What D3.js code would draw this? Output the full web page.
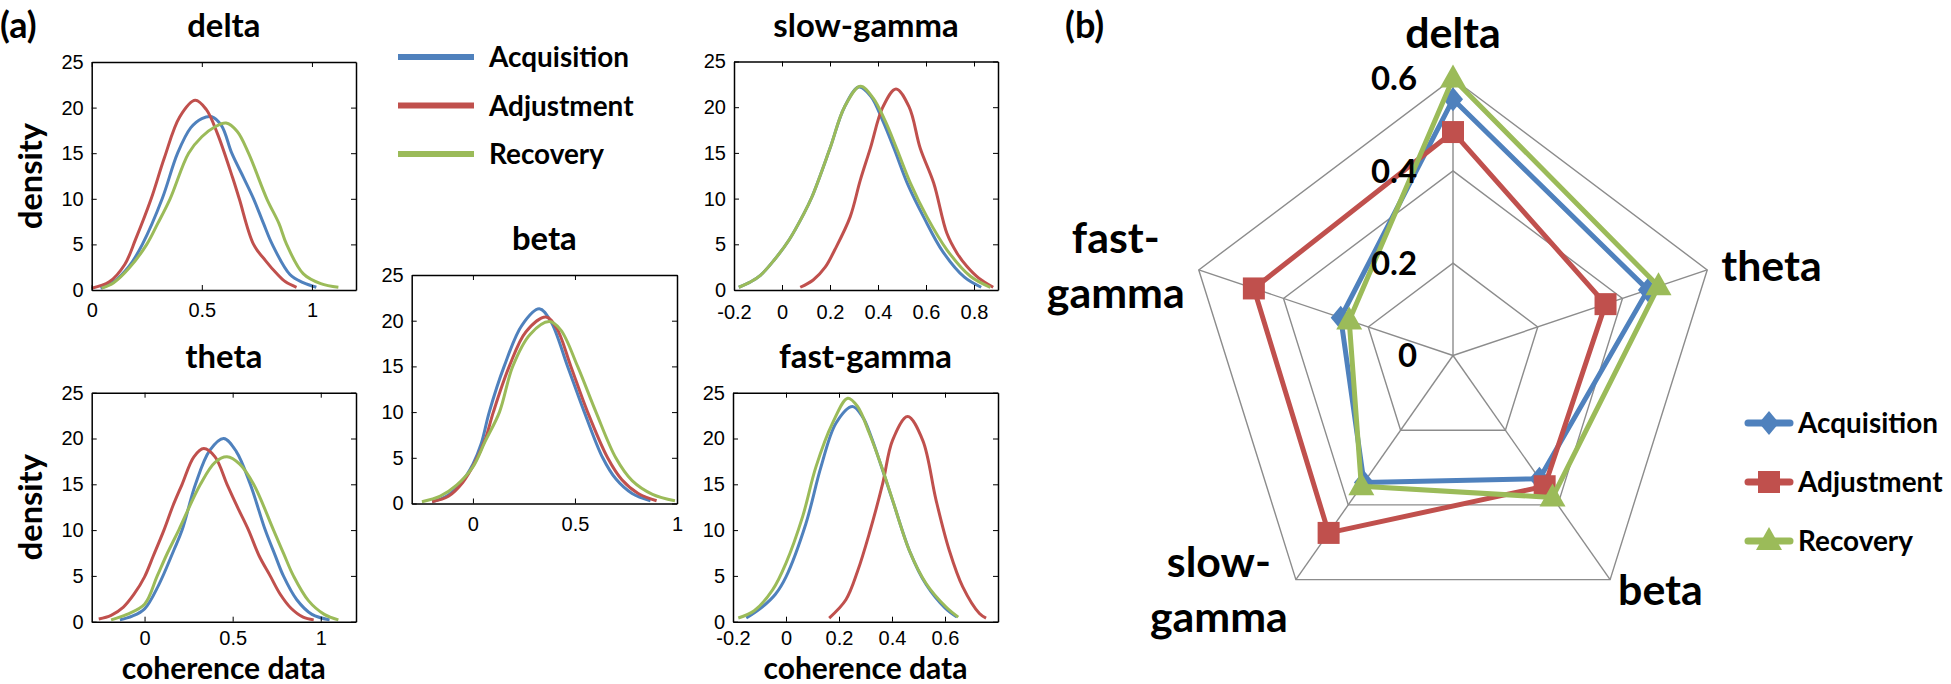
<!DOCTYPE html>
<html>
<head>
<meta charset="utf-8">
<script src="https://cdn.jsdelivr.net/npm/d3@7"></script>
<style>
body { margin: 0; background: #fff; }
text { font-family: Lato, "Noto Sans", sans-serif; font-weight: bold; fill: #000; }
.tick text { font-family: "Liberation Sans", Arial, sans-serif; font-weight: normal; font-size: 20px; }
.tick line { stroke: #000; stroke-width: 1; }
.domain { stroke: #000; stroke-width: 1.5; }
</style>
</head>
<body>
<svg id="fig" width="1951" height="684"></svg>
<script>
// phases and colours
var phases = ["Acquisition", "Adjustment", "Recovery"];
var phaseColors = ["#4f81bd", "#c0504d", "#9bbb59"];

// density curves: [coherence, density]
var deltaAcq = [[0.04,0.2],[0.1,0.9],[0.17,2.6],[0.23,5],[0.32,10],[0.39,15],[0.45,17.8],[0.5,18.8],[0.545,19],[0.59,18],[0.636,15],[0.69,12.3],[0.735,10],[0.78,7.3],[0.82,5],[0.9,1.7],[0.96,0.8],[1.02,0.3]];
var deltaAdj = [[0,0.2],[0.08,0.9],[0.15,2.8],[0.2,5.6],[0.27,10],[0.33,14.5],[0.4,19],[0.47,20.8],[0.52,19.8],[0.57,17.2],[0.64,12.3],[0.67,10],[0.735,5],[0.79,3.2],[0.84,1.8],[0.88,0.9],[0.93,0.3]];
var deltaRec = [[0.045,0.2],[0.1,0.8],[0.17,2.4],[0.25,5],[0.3,7.3],[0.356,10],[0.44,15],[0.5,16.8],[0.56,17.9],[0.61,18.3],[0.66,17.4],[0.712,15],[0.795,10],[0.85,7.3],[0.885,5],[0.96,1.8],[1.04,0.7],[1.12,0.3]];

var thetaAcq = [[-0.14,0.2],[-0.07,0.6],[0,1.4],[0.08,4],[0.166,7.8],[0.213,10],[0.289,15],[0.37,18.7],[0.449,20],[0.52,18.6],[0.6,15],[0.685,10],[0.74,7.3],[0.788,5],[0.864,2.4],[0.95,0.8],[1.05,0.2]];
var thetaAdj = [[-0.26,0.3],[-0.19,0.7],[-0.12,1.6],[-0.06,3.0],[0,4.9],[0.05,7.2],[0.11,10],[0.16,12.6],[0.213,15],[0.28,18],[0.336,18.9],[0.4,18],[0.468,15],[0.53,12.4],[0.59,10],[0.65,7.2],[0.713,5],[0.77,3],[0.83,1.5],[0.9,0.5],[0.96,0.2]];
var thetaRec = [[-0.19,0.2],[-0.1,0.8],[0,1.9],[0.072,5],[0.13,7.5],[0.194,10],[0.317,15],[0.4,17.4],[0.468,18],[0.54,17.2],[0.619,15],[0.732,10],[0.79,7.4],[0.845,5],[0.93,2.3],[1.02,0.8],[1.1,0.2]];

var betaAcq = [[-0.2,0.2],[-0.13,0.8],[-0.06,2.2],[0,4.3],[0.04,6.5],[0.08,10],[0.153,15],[0.24,19.5],[0.325,21.3],[0.38,20],[0.464,15],[0.546,10],[0.636,5],[0.7,2.7],[0.78,1.1],[0.87,0.3]];
var betaAdj = [[-0.2,0.2],[-0.12,0.8],[-0.05,2.3],[0.01,4.5],[0.06,7],[0.1,10],[0.178,15],[0.26,18.8],[0.358,20.4],[0.41,19.2],[0.48,15],[0.562,10],[0.66,5],[0.73,2.6],[0.81,1.1],[0.9,0.3]];
var betaRec = [[-0.25,0.2],[-0.16,0.8],[-0.08,2],[0,4],[0.06,6.8],[0.13,10],[0.195,15],[0.28,18.5],[0.374,19.9],[0.43,19],[0.513,15],[0.603,10],[0.7,5],[0.78,2.5],[0.88,1],[0.99,0.3]];

var slowAcq = [[-0.18,0.3],[-0.13,0.9],[-0.09,1.6],[-0.035,3.2],[0.03,5.5],[0.09,8.3],[0.125,10.2],[0.2,15.5],[0.26,20],[0.32,22.2],[0.37,21.2],[0.42,18.5],[0.468,15.4],[0.525,11.5],[0.59,8],[0.67,4.2],[0.76,1.4],[0.83,0.3]];
var slowAdj = [[0.076,0.3],[0.13,1.1],[0.18,2.5],[0.22,4.4],[0.284,8],[0.326,12],[0.368,15.5],[0.42,20],[0.475,22],[0.53,20],[0.576,15.5],[0.632,11.7],[0.687,6.2],[0.73,4],[0.77,2.6],[0.82,1.3],[0.88,0.3]];
var slowRec = [[-0.18,0.3],[-0.13,0.9],[-0.09,1.6],[-0.035,3.2],[0.03,5.5],[0.09,8.3],[0.125,10.2],[0.2,15.5],[0.26,20],[0.326,22.3],[0.38,21],[0.43,18.5],[0.479,15.4],[0.535,11.7],[0.604,8],[0.687,4.4],[0.785,1.5],[0.868,0.3]];

var fastAcq = [[-0.15,0.4],[-0.09,1.6],[-0.04,3],[0,4.9],[0.075,10.7],[0.132,16.9],[0.189,21.7],[0.251,23.5],[0.29,22.3],[0.32,20.3],[0.365,16.5],[0.405,13],[0.468,7.6],[0.53,4],[0.6,1.5],[0.645,0.5]];
var fastAdj = [[0.163,0.4],[0.226,2.4],[0.27,5.5],[0.314,9.6],[0.365,15.1],[0.402,19.8],[0.459,22.4],[0.516,19.8],[0.566,13.3],[0.616,7.8],[0.667,3.8],[0.73,0.9],[0.755,0.4]];
var fastRec = [[-0.18,0.4],[-0.12,1.2],[-0.05,3.5],[0,6.4],[0.063,11.5],[0.113,16.9],[0.176,21.7],[0.233,24.4],[0.27,23.5],[0.314,20.6],[0.36,17],[0.402,13.3],[0.465,7.8],[0.528,4.2],[0.604,1.6],[0.65,0.5]];

// tick labels
var densityTicks = [0, 5, 10, 15, 20, 25];
var deltaTicks = [0, 0.5, 1];
var thetaTicks = [0, 0.5, 1];
var betaTicks = [0, 0.5, 1];
var slowTicks = [-0.2, 0, 0.2, 0.4, 0.6, 0.8];
var fastTicks = [-0.2, 0, 0.2, 0.4, 0.6];

// radar chart (b): bands clockwise from the top, mean coherence per phase
var bands = ["delta", "theta", "beta", "slow-gamma", "fast-gamma"];
var acqCoherence = [0.555, 0.46, 0.33, 0.34, 0.265];
var adjCoherence = [0.484, 0.36, 0.35, 0.475, 0.47];
var recCoherence = [0.60, 0.485, 0.38, 0.35, 0.245];
var ringTicks = [0, 0.2, 0.4, 0.6];

var svg = d3.select("#fig");
svg.append("rect").attr("width", 1951).attr("height", 684).attr("fill", "#fff");

function fmt(d) { return String(d); }

// font size that gives a sample string the width it has in the original figure
function fitSize(sample, width) {
    var t = svg.append("text").style("font-size", "40px").text(sample);
    var w = t.node().getComputedTextLength();
    t.remove();
    return (40 * width / w) + "px";
}
var titleSize = fitSize("fast-gamma", 173);
var legendSize = fitSize("Acquisition", 140);
var axisLabelSize = fitSize("density", 106);
var bandSize = fitSize("gamma", 138);
var ringSize = fitSize("0.6", 46);
var tagSize = "36px";

// ---------------- panel (a) ----------------
var panels = [
    {title: "delta", series: [deltaAcq, deltaAdj, deltaRec], domain: [0, 1.2], ticks: deltaTicks,
     left: 91.7, right: 356, top: 62, bottom: 290, pad: 13, ylab: true, xlab: false},
    {title: "theta", series: [thetaAcq, thetaAdj, thetaRec], domain: [-0.3, 1.2], ticks: thetaTicks,
     left: 91.7, right: 356, top: 392.7, bottom: 621.7, pad: 9, ylab: true, xlab: true},
    {title: "beta", series: [betaAcq, betaAdj, betaRec], domain: [-0.3, 1], ticks: betaTicks,
     left: 411.7, right: 677, top: 275, bottom: 503.5, pad: 13, ylab: false, xlab: false},
    {title: "slow-gamma", series: [slowAcq, slowAdj, slowRec], domain: [-0.2, 0.9], ticks: slowTicks,
     left: 734, right: 998, top: 61.5, bottom: 290, pad: 15, ylab: false, xlab: false},
    {title: "fast-gamma", series: [fastAcq, fastAdj, fastRec], domain: [-0.2, 0.8], ticks: fastTicks,
     left: 733, right: 998, top: 392.7, bottom: 621.7, pad: 9, ylab: false, xlab: true}
];

panels.forEach(function(p) {
    var x = d3.scaleLinear().domain(p.domain).range([p.left, p.right]);
    var y = d3.scaleLinear().domain([0, 25]).range([p.bottom, p.top]);
    var g = svg.append("g");

    // curves first, frame on top
    var line = d3.line()
        .x(function(d) { return x(d[0]); })
        .y(function(d) { return y(d[1]); })
        .curve(d3.curveCatmullRom.alpha(0.5));
    p.series.forEach(function(s, i) {
        g.append("path")
            .attr("d", line(s))
            .attr("fill", "none")
            .attr("stroke", phaseColors[i])
            .attr("stroke-width", 3);
    });

    // matlab style box with inward ticks on all sides
    g.append("g").attr("transform", "translate(0," + p.bottom + ")")
        .call(d3.axisBottom(x).tickValues(p.ticks).tickFormat(fmt).tickSizeInner(-5).tickSizeOuter(0).tickPadding(p.pad));
    g.append("g").attr("transform", "translate(0," + p.top + ")")
        .call(d3.axisTop(x).tickValues(p.ticks).tickFormat("").tickSizeInner(-5).tickSizeOuter(0));
    g.append("g").attr("transform", "translate(" + p.left + ",0)")
        .call(d3.axisLeft(y).tickValues(densityTicks).tickFormat(fmt).tickSizeInner(-5).tickSizeOuter(0).tickPadding(8));
    g.append("g").attr("transform", "translate(" + p.right + ",0)")
        .call(d3.axisRight(y).tickValues(densityTicks).tickFormat("").tickSizeInner(-5).tickSizeOuter(0));

    g.append("text")
        .attr("x", (p.left + p.right) / 2)
        .attr("y", p.top - 25)
        .attr("text-anchor", "middle")
        .style("font-size", titleSize)
        .text(p.title);

    if (p.ylab) {
        g.append("text")
            .attr("transform", "translate(42," + ((p.top + p.bottom) / 2) + ") rotate(-90)")
            .attr("text-anchor", "middle")
            .style("font-size", axisLabelSize)
            .text("density");
    }
    if (p.xlab) {
        g.append("text")
            .attr("x", (p.left + p.right) / 2)
            .attr("y", 679)
            .attr("text-anchor", "middle")
            .style("font-size", "30px")
            .text("coherence data");
    }
});

// legend of (a)
phases.forEach(function(name, i) {
    var ly = 57 + i * 48.5;
    svg.append("line")
        .attr("x1", 398).attr("x2", 474).attr("y1", ly).attr("y2", ly)
        .attr("stroke", phaseColors[i]).attr("stroke-width", 6);
    svg.append("text")
        .attr("x", 489).attr("y", ly).attr("dy", "0.36em")
        .style("font-size", legendSize)
        .text(name);
});

svg.append("text").attr("x", 0).attr("y", 38).style("font-size", tagSize).text("(a)");

// ---------------- panel (b) ----------------
var cx = 1453, cy = 355.5, R = 277, sx = 0.965;
var r = d3.scaleLinear().domain([0, 0.6]).range([0, R]);
var step = 2 * Math.PI / bands.length;

function pt(i, v) {
    var a = i * step;
    return [cx + sx * r(v) * Math.sin(a), cy - r(v) * Math.cos(a)];
}

var rb = svg.append("g");

// grid rings and spokes
ringTicks.slice(1).forEach(function(v) {
    rb.append("path")
        .attr("d", d3.line().curve(d3.curveLinearClosed)(bands.map(function(b, i) { return pt(i, v); })))
        .attr("fill", "none").attr("stroke", "#8c8c8c").attr("stroke-width", 1.4);
});
bands.forEach(function(b, i) {
    var e = pt(i, 0.6);
    rb.append("line")
        .attr("x1", cx).attr("y1", cy).attr("x2", e[0]).attr("y2", e[1])
        .attr("stroke", "#8c8c8c").attr("stroke-width", 1.4);
});

// markers
function marker(kind) {
    if (kind === 0) return "M0,-12L10,0L0,12L-10,0Z";
    if (kind === 1) return "M-11,-11H11V11H-11Z";
    return "M0,-14L13,9H-13Z";
}

var radarSeries = [acqCoherence, adjCoherence, recCoherence];
radarSeries.forEach(function(vals, k) {
    var pts = vals.map(function(v, i) { return pt(i, v); });
    rb.append("path")
        .attr("d", d3.line().curve(d3.curveLinearClosed)(pts))
        .attr("fill", "none").attr("stroke", phaseColors[k]).attr("stroke-width", 5)
        .attr("stroke-linejoin", "round");
    rb.selectAll(null).data(pts).enter().append("path")
        .attr("transform", function(d) { return "translate(" + d[0] + "," + d[1] + ")"; })
        .attr("d", marker(k))
        .attr("fill", phaseColors[k]);
});

// ring values
ringTicks.forEach(function(v) {
    rb.append("text")
        .attr("x", cx - 36).attr("y", cy - r(v)).attr("dy", "0.36em")
        .attr("text-anchor", "end")
        .style("font-size", ringSize)
        .text(fmt(v));
});

// band labels
var vTop = pt(0, 0.6), vTheta = pt(1, 0.6), vBeta = pt(2, 0.6), vSlow = pt(3, 0.6), vFast = pt(4, 0.6);
function bandLabel(lines, x, y, anchor) {
    lines.forEach(function(t, j) {
        rb.append("text")
            .attr("x", x).attr("y", y + j * 55)
            .attr("text-anchor", anchor)
            .style("font-size", bandSize)
            .text(t);
    });
}
bandLabel(["delta"], vTop[0], vTop[1] - 31, "middle");
bandLabel(["theta"], vTheta[0] + 14, vTheta[1] + 11, "start");
bandLabel(["beta"], vBeta[0] + 8, vBeta[1] + 25, "start");
bandLabel(["slow-", "gamma"], vSlow[0] - 77, vSlow[1] - 3, "middle");
bandLabel(["fast-", "gamma"], vFast[0] - 83, vFast[1] - 17, "middle");

// legend of (b)
phases.forEach(function(name, k) {
    var ly = 423 + k * 59;
    rb.append("line")
        .attr("x1", 1748).attr("x2", 1790).attr("y1", ly).attr("y2", ly)
        .attr("stroke", phaseColors[k]).attr("stroke-width", 7).attr("stroke-linecap", "round");
    rb.append("path")
        .attr("transform", "translate(1769," + ly + ")")
        .attr("d", marker(k))
        .attr("fill", phaseColors[k]);
    rb.append("text")
        .attr("x", 1798).attr("y", ly).attr("dy", "0.36em")
        .style("font-size", legendSize)
        .text(name);
});

svg.append("text").attr("x", 1065).attr("y", 38).style("font-size", tagSize).text("(b)");
</script>
</body>
</html>
